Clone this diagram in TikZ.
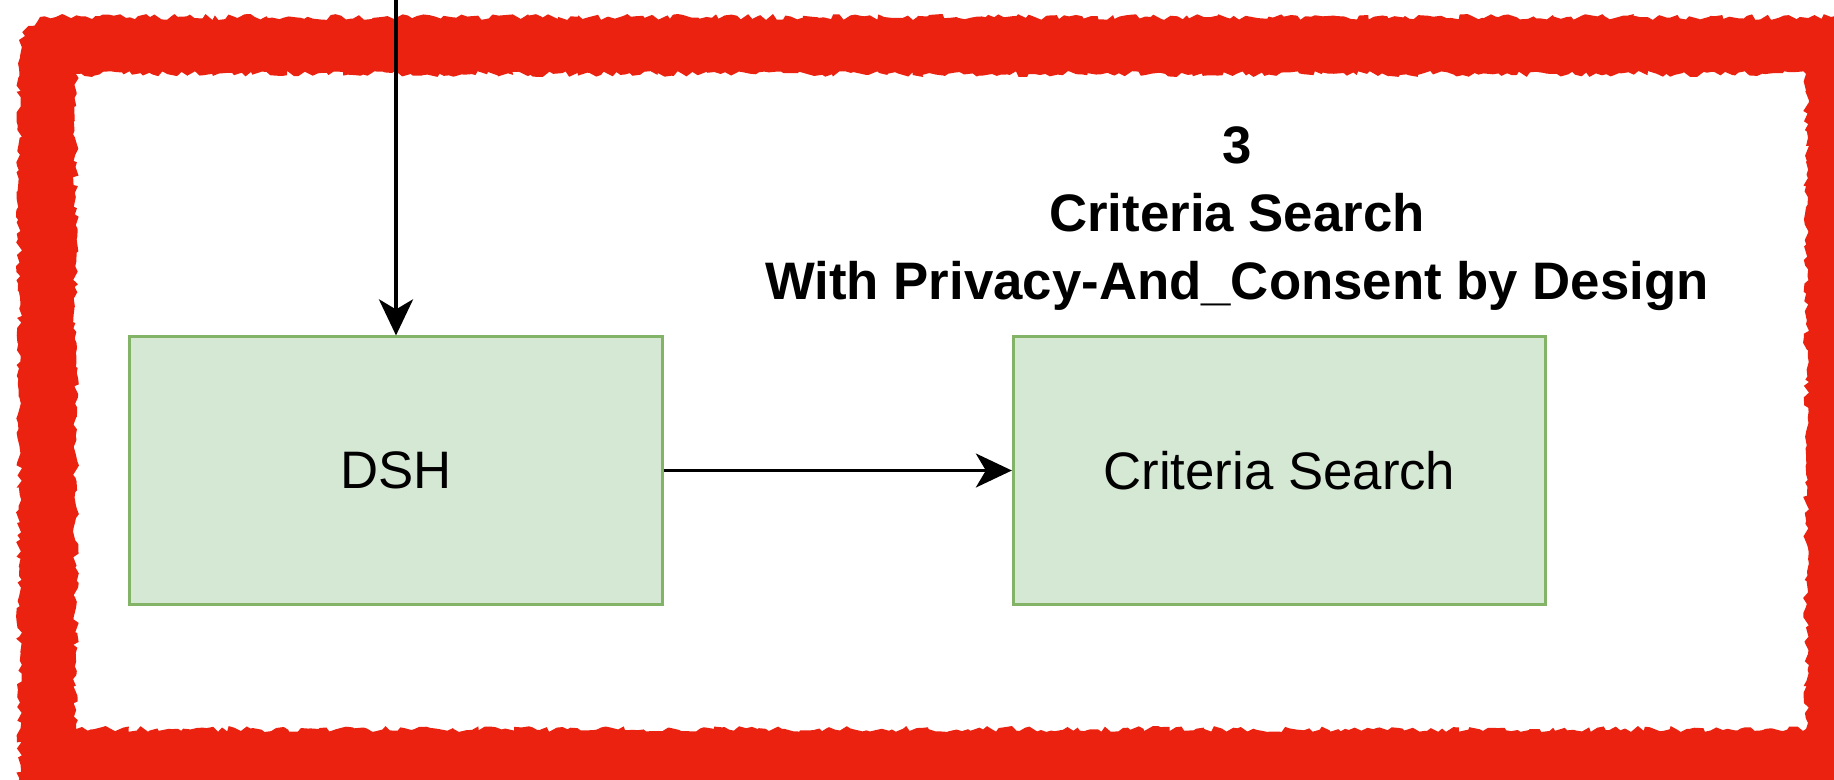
\documentclass[tikz,border=0pt]{standalone}
\usepackage{fontspec}
\setmainfont{Liberation Sans}
\usetikzlibrary{arrows.meta,decorations.pathmorphing}
\definecolor{frameRed}{RGB}{236,34,16}
\definecolor{boxFill}{HTML}{D5E8D4}
\definecolor{boxLine}{HTML}{82B366}
\tikzset{
  stepbox/.style={draw=boxLine, fill=boxFill, line width=0.03cm,
    minimum width=5.32cm, minimum height=2.67cm, inner sep=0pt,
    font=\fontsize{15pt}{18pt}\selectfont},
  flow/.style={draw=black, -{Stealth[length=0.36cm,width=0.34cm,inset=0.1cm]}},
  rough/.style={decorate, decoration={random steps, segment length=0.05cm, amplitude=0.03cm}}
}
\begin{document}
\pgfmathsetseed{7}
\begin{tikzpicture}[x=0.01cm,y=-0.01cm]
  \useasboundingbox (0,0) rectangle (1834,779);
  \fill[white] (0,0) rectangle (1834,779);
  % rough red frame round the stage
  \fill[frameRed, even odd rule]
    [rough] (40,17) -- (1860,17) -- (1860,800) -- (19,800) -- (19,40) -- cycle
    [rough] (76,74) -- (76,729) -- (1806,729) -- (1806,74) -- cycle;
  % stage title
  \node[align=center, font=\bfseries\fontsize{15pt}{19.3pt}\selectfont] (title) at (1237,219)
    {3\\Criteria Search\\With Privacy-And\_Consent by Design};
  % process boxes
  \node[stepbox] (dsh) at (396,470.5) {DSH};
  \node[stepbox] (crit) at (1279.5,470.5) {Criteria Search};
  % connectors
  \coordinate (entry) at (dsh.north |- 0,0);
  \draw[flow, line width=0.04cm] (entry) -- (dsh.north);
  \draw[flow, line width=0.025cm] (dsh.east) -- (crit.west);
\end{tikzpicture}
\end{document}
